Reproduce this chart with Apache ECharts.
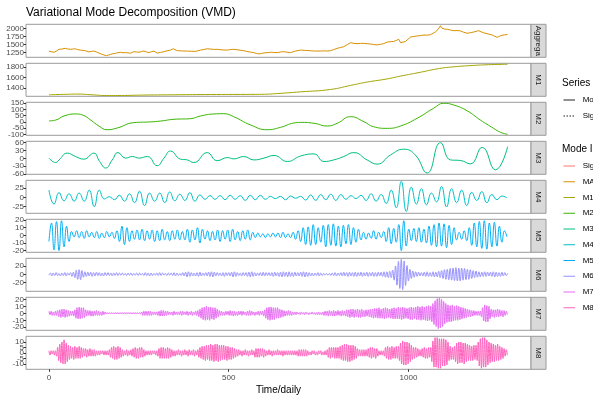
<!DOCTYPE html>
<html>
<head>
<meta charset="utf-8">
<script src="https://cdn.jsdelivr.net/npm/echarts@6/dist/echarts.min.js"></script>
<style>
  html, body { margin: 0; padding: 0; background: #ffffff; }
  #chart { width: 593px; height: 397px; }
</style>
</head>
<body>
<div id="chart"></div>
<script>
// ---------------------------------------------------------------
// Data: VMD decomposition of a daily series (aggregate + 8 modes)
// ---------------------------------------------------------------
const panelNames = ['Aggregate', 'M1', 'M2', 'M3', 'M4', 'M5', 'M6', 'M7', 'M8'];
const modeIds = ['Signal', 'MA', 'M1', 'M2', 'M3', 'M4', 'M5', 'M6', 'M7', 'M8'];
const modeColors = ['#F8766D', '#D89000', '#A3A500', '#39B600', '#00BF7D',
                    '#00BFC4', '#00B0F6', '#9590FF', '#E76BF3', '#FF62BC'];
const seriesKinds = ['Mode', 'Signal'];
const seriesLength = 1277;            // days, first index 0
const xTicks = [0, 500, 1000];

// [day, value]
const aggregatePoints = [
  [0,1285],[6,1270],[10,1262],[14,1250],[18,1272],[21,1290],[25,1320],[28,1344],[35,1350],[40,1368],
  [46,1375],[52,1355],[56,1362],[60,1344],[66,1352],[70,1365],[74,1358],[80,1335],[84,1325],[88,1318],
  [95,1310],[102,1298],[106,1280],[111,1262],[118,1278],[125,1290],[132,1262],[139,1225],[146,1195],[152,1170],
  [160,1145],[166,1165],[172,1188],[178,1205],[185,1220],[192,1238],[199,1250],[206,1236],[213,1242],[220,1230],
  [227,1222],[232,1250],[236,1270],[243,1262],[250,1250],[257,1272],[264,1290],[271,1262],[278,1242],[285,1268],
  [292,1288],[297,1250],[301,1225],[310,1245],[319,1268],[328,1295],[338,1320],[342,1345],[346,1360],[351,1330],
  [357,1300],[365,1298],[372,1290],[385,1288],[396,1282],[408,1280],[415,1300],[422,1320],[431,1338],[440,1360],
  [450,1350],[460,1340],[468,1344],[478,1330],[487,1322],[496,1320],[505,1335],[514,1344],[523,1330],[532,1315],
  [542,1300],[550,1280],[558,1262],[570,1240],[577,1215],[584,1200],[591,1215],[598,1230],[607,1240],[616,1250],
  [625,1245],[635,1240],[644,1258],[653,1270],[662,1255],[672,1240],[679,1265],[686,1290],[693,1305],[700,1320],
  [710,1312],[718,1305],[727,1300],[736,1292],[745,1288],[755,1290],[764,1296],[773,1290],[783,1300],[792,1335],
  [802,1375],[811,1400],[820,1425],[830,1490],[839,1550],[848,1530],[857,1520],[866,1528],[876,1530],[885,1518],
  [894,1510],[903,1495],[913,1480],[922,1500],[931,1520],[936,1548],[941,1570],[950,1582],[959,1590],[966,1620],
  [973,1656],[976,1600],[978,1550],[985,1568],[992,1590],[999,1660],[1006,1728],[1015,1745],[1024,1760],[1033,1775],
  [1043,1790],[1052,1785],[1061,1800],[1068,1840],[1075,1890],[1082,1960],[1089,2080],[1092,2010],[1094,1970],[1101,1975],
  [1108,1970],[1117,1945],[1126,1925],[1135,1930],[1144,1920],[1153,1880],[1163,1844],[1172,1862],[1182,1885],[1188,1905],
  [1195,1925],[1202,1890],[1209,1860],[1221,1825],[1233,1790],[1240,1750],[1247,1720],[1254,1755],[1260,1780],[1268,1795],
  [1276,1810]
];

const m1Points = [
  [0,1275],[40,1282],[80,1288],[120,1275],[160,1260],[210,1262],[270,1270],[350,1275],[450,1280],[550,1282],
  [600,1285],[635,1298],[700,1330],[783,1375],[839,1452],[885,1515],[941,1575],[978,1628],[1033,1700],[1080,1765],
  [1117,1798],[1181,1830],[1230,1845],[1276,1852]
];

const m2Points = [
  [0,8],[19,15],[42,48],[74,64],[93,56],[116,15],[139,-33],[162,-63],[190,-49],[236,-6],
  [283,0],[311,7],[348,21],[394,26],[422,48],[459,64],[486,66],[514,42],[561,-25],[607,-63],
  [644,-44],[681,-9],[700,-4],[737,-11],[774,-33],[802,-11],[839,42],[876,2],[903,-39],[941,-52],
  [978,-33],[1024,29],[1070,110],[1098,150],[1126,136],[1163,90],[1200,15],[1237,-52],[1256,-84],[1276,-100]
];

const m3Points = [
  [0,1],[19,-16],[28,-6],[51,20],[74,7],[97,-3],[125,20],[141,-12],[158,-37],[176,-6],
  [192,22],[213,1],[232,7],[250,1],[274,7],[301,-28],[320,1],[338,28],[366,-3],[385,-6],
  [403,-16],[440,22],[468,-9],[496,3],[514,-2],[542,7],[570,-6],[598,1],[626,11],[663,-12],
  [700,9],[737,17],[765,-12],[792,-6],[820,7],[848,22],[885,-6],[913,-22],[950,13],[987,35],
  [1019,13],[1052,-56],[1089,60],[1117,-6],[1144,-8],[1172,-21],[1205,42],[1242,-44],[1276,45]
];

// Oscillating modes: successive peaks / troughs, one every `step` days
const m4Step = 14;
const m4Extrema = [
  20,-18,13,-9,10,-10,12,-10,20,-25, 20,-4,2,-6,6,-10,10,-14,17,-22,
  12,-10,12,-14,15,-9,9,-8,13,-10, 7,-5,5,-5,5,-6,6,-5,5,-8,
  6,-6,6,-5,3,-3,3,-6,4,-2,
  3,-7,7,-8,8,-6,9,-8,8,-5, 5,-3,6,-8,10,-10,8,-16,20,-28,
  44,-38,28,-18,24,-20,12,-12,30,-26, 24,-14,20,-22,14,-8,16,-14,8,-6,
  4,-1
];

const m5Step = 7;
const m5Extrema = [
  -8,16,-19,18,-20,19,-15,12,-8,
  5,-2,6,-3,5,-4,6,-2,4,-3,5,-4,3,-3,5,-2,4,-4,
  6,-8,12,-12,10,-8,6,
  -5,7,-6,8,-7,6,-5,7,-8,6,-7,8,-6,5,-7,6,-5,7,-6,
  5,-6,8,-9,7,-6,10,-10,8,-5,6,-7,5,
  -6,7,-8,6,-5,7,-8,8,-6,5,-7,6,-5,7,-6,4,-3,3,-2,2,-3,2,-2,3,-2,3,
  -3,4,-3,2,-3,4,-5,6,
  -8,10,-12,11,-13,14,-12,10,-9,13,-15,14,-13,15,-14,12,-15,13,-11,14,-12,10,-9,8,-6,
  4,-5,3,-4,6,-5,4,-3,5,
  -8,10,-11,9,-9,14,-20,19,-14,8,-7,9,
  -8,10,-9,8,-10,12,-13,14,
  -15,16,-14,15,-16,13,-12,10,-6,
  4,-5,6,-7,
  10,-13,16,-15,18,-17,19,-18,16,-15,17,-14,12,-9,
  6,-2
];

const m6Step = 4;
const m6Extrema = [
  -2,3,-4,3,-3,4,-3,2,-4,3,-3,4,-4,3,-2,4,-5,5,
  -8,10,-12,11,-13,9,-7,
  6,-5,5,-4,5,-5,4,-4,5,-3,4,-4,3,-4,4,-3,4,-3,3,-4,3,-3,4,-3,3,
  -2,3,-2,2,-3,3,-2,3,-3,2,-2,3,-3,3,-2,2,-3,4,-3,3,-4,3,-3,2,-2,3,-3,4,-3,3,-2,2,-3,3,-2,3,-3,4,-4,3,-3,2,-3,
  4,-4,5,-6,6,-5,4,-4,3,-4,4,-5,5,-4,3,-3,4,-4,5,-5,6,-6,5,-4,4,-3,3,-4,4,-5,
  4,-3,4,-4,5,-6,6,-5,4,-3,3,-4,4,-3,4,-5,5,-6,6,-5,4,-4,3,-3,4,-4,5,-4,4,-3,4,-4,
  4,-5,5,-4,4,-5,5,-6,6,-5,5,-6,6,-5,4,-5,5,-4,
  4,-4,5,-5,6,-6,5,-5,4,-4,3,-4,3,-3,4,-4,3,-3,2,-2,2,-2,2,-3,3,-3,4,-4,3,-3,
  4,-4,5,-4,4,-5,5,-4,4,-5,5,-5,4,-4,5,-5,4,-4,5,-5,4,-4,5,-5,4,-5,5,-4,5,
  -5,6,-7,6,-8,7,-8,
  10,-14,20,-26,31,-34,36,-37,32,-27,21,-16,12,-10,
  8,-7,6,-5,5,-4,4,
  -4,5,-5,6,-5,4,-5,6,-6,5,-6,7,
  -8,9,-10,11,-12,12,-13,14,-14,15,-15,16,-16,15,-16,15,-14,14,-13,12,-12,11,-10,9,-8,8,-7,6,-6,
  5,-5,6,-5,5,-4,5,-5,6,-6,5,-5,4,-5,5,-4,4,-3,2
];

const m7Step = 3;
const m7Extrema = [
  3,-2,3,-3,2,-3,3,-3,4,-5,5,-6,6,-5,6,-6,5,-5,4,-4,
  3,-3,3,-4,5,-7,8,-8,9,-8,8,-7,8,-6,5,-4,4,-3,4,-4,
  3,-4,3,-3,4,-3,3,-3,2,-3,3,-2,2,-1,1,-1,1,-1,1,-1,
  1,-1,1,-1,1,-1,1,-1,1,-1,1,-1,1,-1,1,-1,1,-1,1,-1,
  1,-1,1,-1,1,-1,2,-3,3,-3,3,-3,3,-3,3,-3,2,-2,2,-2,
  2,-3,3,-4,4,-4,4,-4,3,-3,3,-2,2,-2,2,-3,3,-2,2,-2,
  2,-2,3,-3,3,-2,2,-2,3,-3,2,-2,3,-3,2,-2,3,-3,4,-5,
  6,-7,8,-9,9,-10,10,-9,9,-10,9,-8,8,-9,8,-7,6,-5,4,-3,
  3,-3,2,-3,3,-2,3,-3,4,-3,3,-4,3,-3,2,-3,3,-2,3,-3,
  3,-2,2,-3,3,-3,4,-3,3,-2,2,-3,2,-2,3,-3,3,-2,3,-4,
  5,-7,8,-9,9,-10,9,-9,8,-9,8,-7,8,-7,6,-6,5,-5,4,-4,
  3,-3,4,-3,3,-3,2,-2,2,-2,2,-1,1,-2,2,-1,1,-2,2,-1,
  1,-2,1,-1,2,-1,1,-2,1,-2,2,-2,1,-2,2,-3,3,-3,3,-4,
  4,-3,3,-4,4,-4,3,-3,4,-3,3,-4,4,-3,3,-4,5,-5,5,-6,
  6,-5,6,-6,5,-5,6,-6,5,-6,6,-5,4,-5,5,-4,5,-5,6,-6,
  6,-7,7,-6,7,-7,8,-7,6,-7,7,-8,8,-7,7,-6,6,-7,7,-8,
  8,-8,7,-8,9,-8,8,-9,9,-8,8,-7,7,-8,8,-9,9,-9,8,-8,
  9,-9,10,-9,9,-10,10,-9,9,-10,10,-11,11,-10,10,-12,14,-16,18,-19,
  21,-22,22,-21,20,-19,17,-15,14,-13,12,-12,11,-12,12,-11,10,-10,11,-10,
  10,-9,9,-8,8,-7,7,-6,6,-5,5,-5,4,-4,4,-3,3,-3,3,-3,
  3,-5,8,-11,12,-12,11,-12,10,-8,6,-5,5,-6,5,-5,6,-5,5,-4,
  4,-5,4,-3,3,-2
];

const m8Step = 3;
const m8Extrema = [
  2,-2,2,-1,2,-2,2,-3,5,-7,8,-9,10,-10,12,-10,9,-8,7,-6,
  6,-5,5,-6,6,-5,5,-5,6,-5,5,-4,4,-3,4,-4,3,-3,4,-3,
  3,-3,3,-3,2,-2,2,-2,2,-1,2,-2,2,-2,2,-2,3,-4,5,-5,
  6,-6,5,-6,6,-5,5,-4,3,-3,2,-2,3,-3,2,-2,3,-3,4,-4,
  5,-5,4,-5,5,-4,5,-4,3,-3,2,-2,2,-2,2,-2,2,-1,2,-2,
  2,-3,4,-5,5,-5,5,-5,4,-5,5,-5,4,-4,3,-3,2,-3,2,-2,
  3,-2,2,-3,2,-2,3,-2,2,-3,3,-2,2,-2,3,-3,2,-2,3,-4,
  5,-5,6,-6,6,-7,7,-6,7,-7,8,-7,7,-8,8,-7,8,-8,7,-7,
  7,-6,7,-6,6,-7,6,-6,5,-6,5,-5,4,-4,3,-3,3,-2,2,-3,
  2,-2,3,-2,2,-3,2,-2,3,-2,2,-4,4,-4,4,-4,4,-3,4,-4,
  3,-3,2,-2,3,-2,2,-3,2,-2,2,-2,3,-2,2,-2,2,-3,2,-2,
  2,-2,2,-2,2,-2,2,-2,2,-2,2,-3,3,-3,3,-3,3,-3,3,-3,
  2,-2,1,-2,2,-1,2,-2,1,-2,2,-1,2,-2,1,-2,2,-2,3,-4,
  5,-5,5,-4,5,-5,5,-5,5,-5,6,-6,7,-7,8,-7,8,-8,7,-8,
  7,-7,7,-6,6,-5,4,-3,3,-3,3,-3,3,-3,3,-3,4,-4,5,-5,
  5,-4,4,-5,4,-3,2,-2,2,-2,2,-3,5,-5,6,-6,5,-6,6,-5,
  5,-5,6,-5,6,-7,9,-10,11,-11,10,-11,10,-10,9,-8,7,-6,5,-5,
  5,-4,4,-3,3,-3,4,-4,5,-5,4,-5,5,-4,5,-8,11,-13,14,-13,
  14,-14,13,-14,13,-12,13,-12,12,-11,10,-7,6,-6,5,-6,6,-8,9,-10,
  10,-9,10,-9,9,-10,9,-8,8,-7,7,-7,6,-7,7,-6,7,-7,10,-12,
  13,-14,14,-13,14,-13,12,-11,10,-9,9,-8,8,-8,7,-7,8,-7,6,-6,
  5,-5,4,-3,3,-2
];

// Free y scales per panel and their tick values
const yLimits = [[1094, 2125], [1246, 1870], [-108, 158], [-61, 65.3], [-43, 46.7],
                 [-22.1, 20.9], [-40.7, 38.3], [-24.3, 22.9], [-15, 15.2]];
const yTicks = [[1250, 1500, 1750, 2000], [1400, 1600, 1800], [-100, -50, 0, 50, 100, 150],
                [-60, -30, 0, 30, 60], [-25, 0, 25], [-20, -10, 0, 10, 20], [-20, 0, 20],
                [-20, -10, 0, 10, 20], [-10, -5, 0, 5, 10]];

// ---------------------------------------------------------------
// Layout
// ---------------------------------------------------------------
const FONT = '"Liberation Sans", Arial, Helvetica, sans-serif';
const PANEL_LEFT = 26;
const PANEL_WIDTH = 505;
const PANEL_TOP = 24.3;
const PANEL_PITCH = 39;
const PANEL_HEIGHT = 33;
const STRIP_WIDTH = 15;
const X_MIN = -0.05 * seriesLength;
const X_MAX = 1.05 * seriesLength;

const onSteps = (values, step) => values.map((v, i) => [i * step, v]);
const panelData = [
  aggregatePoints, m1Points, m2Points, m3Points,
  onSteps(m4Extrema, m4Step), onSteps(m5Extrema, m5Step), onSteps(m6Extrema, m6Step),
  onSteps(m7Extrema, m7Step), onSteps(m8Extrema, m8Step)
];
const panelColors = panelNames.map((n) => modeColors[modeIds.indexOf(n === 'Aggregate' ? 'MA' : n)]);
const plainNumber = (v) => String(v);

const grids = [], xAxes = [], yAxes = [], series = [], graphics = [];

const yLabelStyle = {
  formatter: plainNumber, showMinLabel: true, showMaxLabel: true, hideOverlap: false,
  fontSize: 8, color: '#4D4D4D', margin: 2, fontFamily: FONT
};

panelNames.forEach((name, k) => {
  const top = PANEL_TOP + k * PANEL_PITCH;
  const last = k === panelNames.length - 1;
  grids.push({
    left: PANEL_LEFT, top: top, width: PANEL_WIDTH, height: PANEL_HEIGHT,
    show: true, borderColor: '#9a9a9a', borderWidth: 1, backgroundColor: '#ffffff',
    outerBoundsMode: 'none', containLabel: false
  });
  xAxes.push({
    type: 'value', gridIndex: k, min: X_MIN, max: X_MAX,
    axisLine: { show: false, onZero: false }, splitLine: { show: false },
    axisTick: { show: last, length: 2.5, lineStyle: { color: '#333333', width: 1 }, customValues: xTicks },
    axisLabel: { show: last, customValues: xTicks, formatter: plainNumber,
                 showMinLabel: true, showMaxLabel: true, hideOverlap: false,
                 fontSize: 8, color: '#4D4D4D', margin: 4, fontFamily: FONT },
    name: last ? 'Time/daily' : '', nameLocation: 'middle', nameGap: 16,
    nameTextStyle: { fontSize: 10, color: '#000000', fontFamily: FONT }
  });
  // Tick labels are split over two coincident axes (alternate ticks on each),
  // so the tightly packed labels of the small panels are all kept.
  const evenTicks = yTicks[k].filter((_, j) => j % 2 === 0);
  const oddTicks = yTicks[k].filter((_, j) => j % 2 === 1);
  yAxes.push({
    type: 'value', gridIndex: k, min: yLimits[k][0], max: yLimits[k][1], position: 'left',
    axisLine: { show: false, onZero: false }, splitLine: { show: false },
    axisTick: { show: true, length: 2.5, lineStyle: { color: '#333333', width: 1 }, customValues: yTicks[k] },
    axisLabel: Object.assign({ customValues: evenTicks }, yLabelStyle)
  });
  yAxes.push({
    type: 'value', gridIndex: k, min: yLimits[k][0], max: yLimits[k][1], position: 'left', offset: 0,
    axisLine: { show: false, onZero: false }, splitLine: { show: false },
    axisTick: { show: false },
    axisLabel: Object.assign({ customValues: oddTicks, show: oddTicks.length > 0 }, yLabelStyle)
  });
  series.push({
    type: 'line', xAxisIndex: k, yAxisIndex: 2 * k, data: panelData[k],
    showSymbol: false, symbol: 'none', smooth: k > 0 ? 0.5 : false,
    lineStyle: { width: 1, color: panelColors[k] }, silent: true, animation: false, clip: true
  });
  // facet strip on the right
  graphics.push({
    type: 'rect',
    shape: { x: PANEL_LEFT + PANEL_WIDTH, y: top, width: STRIP_WIDTH, height: PANEL_HEIGHT },
    style: { fill: '#D9D9D9', stroke: '#9a9a9a', lineWidth: 1 }
  });
  graphics.push({
    type: 'text',
    x: PANEL_LEFT + PANEL_WIDTH + STRIP_WIDTH / 2, y: top + PANEL_HEIGHT / 2,
    rotation: -Math.PI / 2,
    style: {
      text: name, fontSize: 8, fill: '#1A1A1A', fontFamily: FONT,
      align: 'center', verticalAlign: 'middle',
      width: PANEL_HEIGHT, overflow: 'truncate', ellipsis: ''
    }
  });
});

// Title
graphics.push({
  type: 'text', x: PANEL_LEFT, y: 12.8,
  style: { text: 'Variational Mode Decomposition (VMD)', fontSize: 12, fill: '#000000',
           fontFamily: FONT, align: 'left', verticalAlign: 'middle' }
});

// Legends (linetype + colour)
const LEG_X = 562;
graphics.push({
  type: 'text', x: LEG_X, y: 83,
  style: { text: 'Series', fontSize: 10, fill: '#000000', fontFamily: FONT, align: 'left', verticalAlign: 'middle' }
});
seriesKinds.forEach((label, j) => {
  const y = 100 + j * 16;
  graphics.push({
    type: 'line', shape: { x1: LEG_X + 1.5, y1: y, x2: LEG_X + 13, y2: y },
    style: { stroke: '#222222', lineWidth: 1, lineDash: j === 0 ? null : [1.5, 1.5] }
  });
  graphics.push({
    type: 'text', x: LEG_X + 20.7, y: y,
    style: { text: label, fontSize: 8, fill: '#000000', fontFamily: FONT, align: 'left', verticalAlign: 'middle' }
  });
});
graphics.push({
  type: 'text', x: LEG_X, y: 149,
  style: { text: 'Mode ID', fontSize: 10, fill: '#000000', fontFamily: FONT, align: 'left', verticalAlign: 'middle' }
});
modeIds.forEach((label, j) => {
  const y = 166 + j * 15.75;
  graphics.push({
    type: 'line', shape: { x1: LEG_X + 1.5, y1: y, x2: LEG_X + 13, y2: y },
    style: { stroke: modeColors[j], lineWidth: 1 }
  });
  graphics.push({
    type: 'text', x: LEG_X + 20.7, y: y,
    style: { text: label, fontSize: 8, fill: '#000000', fontFamily: FONT, align: 'left', verticalAlign: 'middle' }
  });
});

const chart = echarts.init(document.getElementById('chart'), null, { renderer: 'canvas' });
chart.setOption({
  backgroundColor: '#ffffff',
  animation: false,
  grid: grids,
  xAxis: xAxes,
  yAxis: yAxes,
  series: series,
  graphic: { elements: graphics }
});
</script>
</body>
</html>
